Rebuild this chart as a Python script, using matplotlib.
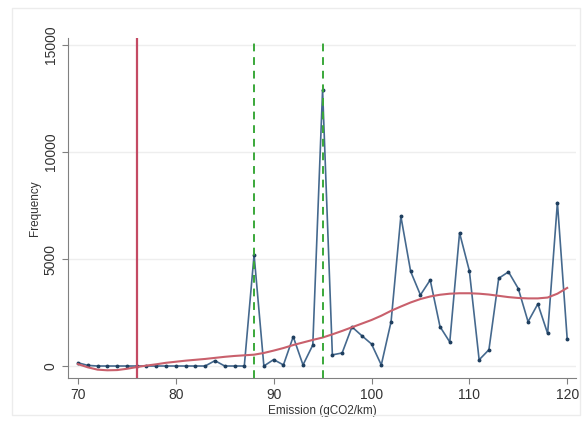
import numpy as np
import matplotlib
matplotlib.use('Agg')
import matplotlib.pyplot as plt
import matplotlib.patches as mpatches

plt.rcParams['font.family'] = ['Liberation Sans', 'DejaVu Sans']

# Emission values (gCO2/km) and frequencies
emission = list(range(70, 121))
frequency = [150, 30, 0, 0, 0, 0, 0, 0, 0, 0,
             0, 0, 0, 0, 250, 0, 0, 0, 5200, 0,
             300, 50, 1370, 50, 980, 12900, 520, 610, 1830, 1420,
             1030, 50, 2070, 7000, 4420, 3320, 4020, 1840, 1120, 6220,
             4450, 290, 760, 4100, 4400, 3620, 2070, 2900, 1520, 7640,
             1260]

# smoothed (lowess-like) curve, read at the same emission values
smooth = [90, -60, -170, -200, -190, -130, -50, 20, 80, 150,
          200, 250, 290, 330, 380, 430, 470, 500, 530, 610,
          720, 840, 980, 1100, 1220, 1330, 1480, 1640, 1810, 1980,
          2150, 2350, 2580, 2780, 2970, 3130, 3250, 3330, 3380, 3400,
          3400, 3380, 3340, 3280, 3220, 3180, 3160, 3160, 3200, 3380,
          3650]

red_line_x = 76
green_lines_x = [88, 95]

fig = plt.figure(figsize=(5.82, 4.23), dpi=100)
ax = fig.add_axes([0.1168, 0.1064, 0.8729, 0.8038])

# faint outer frame of the graph region
fig.patches.append(mpatches.Rectangle((12 / 582, 1 - 415 / 423), 568 / 582, 407 / 423,
                                      transform=fig.transFigure, fill=False,
                                      edgecolor='#ececec', linewidth=1))

for yv in [0, 5000, 10000, 15000]:
    ax.axhline(yv, color='#eeeeee', linewidth=1, zorder=0)

ax.plot(emission, frequency, color='#45698e', linewidth=1.2, marker='o',
        markersize=1.8, markerfacecolor='#1f3f5f', markeredgecolor='#1f3f5f', zorder=3)
ax.plot(emission, smooth, color='#c9606c', linewidth=1.5, zorder=4)

ax.axvline(red_line_x, color='#c44a63', linewidth=1.6, zorder=5)
for gx in green_lines_x:
    ax.axvline(gx, color='#3aa83a', linewidth=1.4, linestyle=(0, (4, 3)), zorder=5)

ax.set_xlim(68.98, 120.9)
ax.set_ylim(-560, 15330)
ax.set_xticks([70, 80, 90, 100, 110, 120])
ax.set_yticks([0, 5000, 10000, 15000])
for lab in ax.get_yticklabels():
    lab.set_rotation(90)
    lab.set_va('center')

ax.spines['top'].set_visible(False)
ax.spines['right'].set_visible(False)
for s in ['left', 'bottom']:
    ax.spines[s].set_color('#808080')
ax.tick_params(colors='#808080', labelcolor='#333333', labelsize=10, length=4)
ax.set_xlabel('Emission (gCO2/km)', fontsize=8.5, color='#333333', labelpad=2)
ax.set_ylabel('Frequency', fontsize=8.5, color='#333333', labelpad=2)

plt.savefig('out.png', dpi=100)
